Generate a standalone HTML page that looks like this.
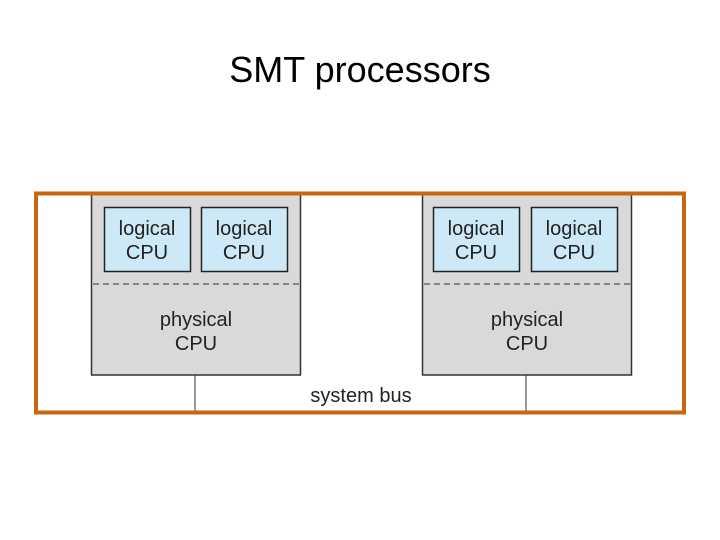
<!DOCTYPE html>
<html><head><style>body{margin:0;background:#fff}svg{display:block}</style></head><body>
<svg width="720" height="540" xmlns="http://www.w3.org/2000/svg" font-family="Liberation Sans, sans-serif">
<text x="360" y="82" font-size="36" text-anchor="middle" fill="#000" font-family="Liberation Sans, sans-serif">SMT processors</text>
<line x1="195" y1="375" x2="195" y2="412" stroke="#333" stroke-width="1"/>
<line x1="526" y1="375" x2="526" y2="412" stroke="#333" stroke-width="1"/>
<g>
<rect x="91.5" y="194" width="209" height="181" fill="#d9d9d9" stroke="#333" stroke-width="1.5"/>
<line x1="93" y1="284" x2="299" y2="284" stroke="#333" stroke-dasharray="6,4"/>
<rect x="104.5" y="207.5" width="86" height="64" fill="#cde9f8" stroke="#222" stroke-width="1.5"/>
<rect x="201.5" y="207.5" width="86" height="64" fill="#cde9f8" stroke="#222" stroke-width="1.5"/>
<text font-size="20" fill="#222" text-anchor="middle"><tspan x="147" y="235">logical</tspan><tspan x="147" y="259">CPU</tspan></text>
<text font-size="20" fill="#222" text-anchor="middle"><tspan x="244" y="235">logical</tspan><tspan x="244" y="259">CPU</tspan></text>
<text font-size="20" fill="#222" text-anchor="middle"><tspan x="196" y="326">physical</tspan><tspan x="196" y="350">CPU</tspan></text>
</g>
<g>
<rect x="422.5" y="194" width="209" height="181" fill="#d9d9d9" stroke="#333" stroke-width="1.5"/>
<line x1="424" y1="284" x2="630" y2="284" stroke="#333" stroke-dasharray="6,4"/>
<rect x="433.5" y="207.5" width="86" height="64" fill="#cde9f8" stroke="#222" stroke-width="1.5"/>
<rect x="531.5" y="207.5" width="86" height="64" fill="#cde9f8" stroke="#222" stroke-width="1.5"/>
<text font-size="20" fill="#222" text-anchor="middle"><tspan x="476" y="235">logical</tspan><tspan x="476" y="259">CPU</tspan></text>
<text font-size="20" fill="#222" text-anchor="middle"><tspan x="574" y="235">logical</tspan><tspan x="574" y="259">CPU</tspan></text>
<text font-size="20" fill="#222" text-anchor="middle"><tspan x="527" y="326">physical</tspan><tspan x="527" y="350">CPU</tspan></text>
</g>
<text x="361" y="402" font-size="20" fill="#222" text-anchor="middle">system bus</text>
<rect x="36" y="193.5" width="648" height="219" fill="none" stroke="#c8670f" stroke-width="4"/>
</svg>
</body></html>
